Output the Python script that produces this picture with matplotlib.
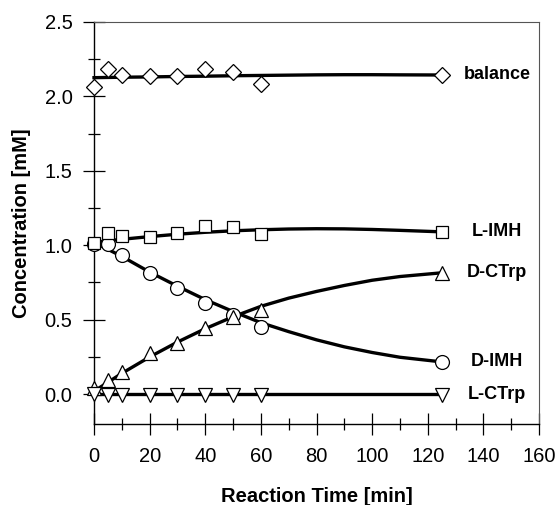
import matplotlib.pyplot as plt
from matplotlib.ticker import MultipleLocator, FormatStrFormatter

plt.rcParams["font.family"] = ["Liberation Sans", "DejaVu Sans"]


# DATA

time = [0, 5, 10, 20, 30, 40, 50, 60, 125]

balance = [2.064, 2.18, 2.143, 2.138, 2.138, 2.18, 2.165, 2.08, 2.143]
l_imh = [1.013, 1.085, 1.062, 1.054, 1.08, 1.132, 1.12, 1.074, 1.09]
d_imh = [1.01, 1.007, 0.935, 0.812, 0.711, 0.611, 0.532, 0.454, 0.217]
d_ctrp = [0.04, 0.096, 0.152, 0.275, 0.342, 0.443, 0.521, 0.566, 0.814]
l_ctrp = [0.0, -0.005, -0.005, -0.005, -0.005, -0.005, -0.005, -0.005, -0.005]

# fitted curves, read at these times
fit_time = [0, 10, 20, 30, 40, 50, 60, 70, 80, 90, 100, 110, 125]
fit_balance = [2.125, 2.128, 2.13, 2.133, 2.135, 2.138, 2.14, 2.142, 2.144, 2.145, 2.145, 2.144, 2.143]
fit_l_imh = [1.02, 1.04, 1.058, 1.074, 1.087, 1.097, 1.104, 1.109, 1.111, 1.11, 1.106, 1.1, 1.09]
fit_d_imh = [1.02, 0.925, 0.82, 0.725, 0.635, 0.555, 0.48, 0.42, 0.365, 0.318, 0.28, 0.248, 0.217]
fit_d_ctrp = [0.02, 0.14, 0.25, 0.35, 0.44, 0.52, 0.59, 0.645, 0.69, 0.73, 0.765, 0.79, 0.815]
fit_l_ctrp = [0.0, 0.0, 0.0, 0.0, 0.0, 0.0, 0.0, 0.0, 0.0, 0.0, 0.0, 0.0, 0.0]

labels = ["balance", "D-IMH", "L-IMH", "D-CTrp", "L-CTrp"]


# PLOT

fig = plt.figure(figsize=(5.58, 5.05), dpi=100)
ax = fig.add_axes([0.1685, 0.1604, 0.7975, 0.7964])

# circles first so the square at t=0 sits on top
series = [
    (balance, fit_balance, "D", 8),
    (d_imh, fit_d_imh, "o", 10),
    (l_imh, fit_l_imh, "s", 8.5),
    (d_ctrp, fit_d_ctrp, "^", 10),
    (l_ctrp, fit_l_ctrp, "v", 10),
]

for (pts, fit, marker, ms), label in zip(series, labels):
    ax.plot(fit_time, fit, color="black", lw=2.4, zorder=2, clip_on=False)
    ax.plot(time, pts, linestyle="none", marker=marker, ms=ms,
            mfc="white", mec="black", mew=0.9, zorder=3, clip_on=False)
    ax.text(145, pts[-1], label, ha="center", va="center",
            fontsize=13, fontweight="bold")

ax.set_xlim(0, 160)
ax.set_ylim(-0.2, 2.5)

ax.xaxis.set_major_locator(MultipleLocator(20))
ax.xaxis.set_minor_locator(MultipleLocator(10))
ax.set_yticks([0, 0.5, 1.0, 1.5, 2.0, 2.5])
ax.set_yticks([0.25, 0.75, 1.25, 1.75, 2.25], minor=True)
ax.yaxis.set_major_formatter(FormatStrFormatter("%.1f"))

ax.tick_params(which="major", direction="inout", length=16, width=0.9,
               labelsize=14.5)
ax.tick_params(which="minor", direction="inout", length=8.5, width=0.9)
ax.tick_params(axis="x", which="major", pad=8.5)
ax.tick_params(axis="y", which="major", pad=7.5)

for side in ["left", "bottom"]:
    ax.spines[side].set_linewidth(1.0)
for side in ["top", "right"]:
    ax.spines[side].set_linewidth(0.8)
    ax.spines[side].set_color("#555555")

ax.set_xlabel("Reaction Time [min]", fontsize=14.5, fontweight="bold", labelpad=15)
ax.set_ylabel("Concentration [mM]", fontsize=14.5, fontweight="bold", labelpad=10)

plt.savefig("out.png", dpi=100)
